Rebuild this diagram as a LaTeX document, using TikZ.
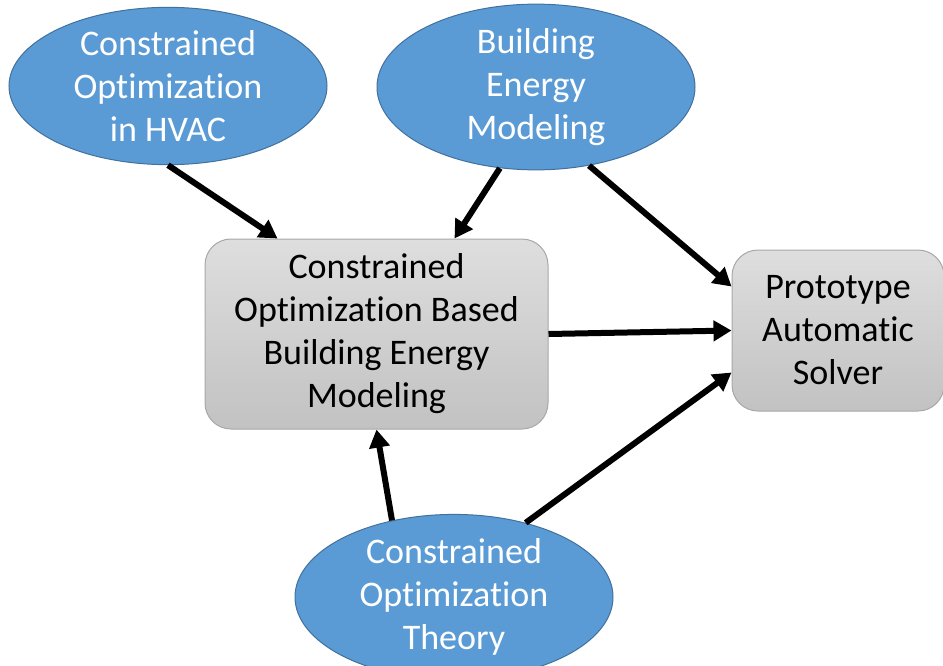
\documentclass[tikz,border=0pt]{standalone}
\usepackage{fontspec}
\setmainfont[Ligatures={NoCommon,NoRare,NoDiscretionary}]{Carlito}
\usetikzlibrary{shapes.geometric,arrows.meta}
\definecolor{ellfill}{HTML}{5B9BD5}
\definecolor{elldraw}{HTML}{41719C}
\definecolor{boxtop}{HTML}{DEDEDE}
\definecolor{boxbot}{HTML}{C2C2C2}
\definecolor{boxdraw}{HTML}{A8A8A8}
\begin{document}
\begin{tikzpicture}[x=1pt,y=-1pt,
  ell/.style={ellipse, fill=ellfill, draw=elldraw, line width=1pt, inner sep=0pt,
    minimum width=318pt, minimum height=154pt, text=white, align=center,
    font=\fontsize{36}{43}\selectfont},
  gbox/.style={rectangle, rounded corners=26pt, top color=boxtop, bottom color=boxbot,
    draw=boxdraw, line width=1pt, inner sep=0pt, align=center, text=black,
    font=\fontsize{36}{43}\selectfont},
  conn/.style={line width=6pt, -{Triangle[length=18pt,width=20pt]}}]
\useasboundingbox (0,0) rectangle (943,665);
\node[ell] (e1) at (168,86) {Constrained\\Optimization\\in HVAC};
\node[ell] (e2) at (536,87) {Building\\Energy\\Modeling};
\node[ell] (e3) at (454,597) {Constrained\\Optimization\\Theory};
\node[gbox, minimum width=343pt, minimum height=190pt] (b1) at (376.5,334)
  {Constrained\\Optimization Based\\Building Energy\\Modeling};
\node[gbox, minimum width=212pt, minimum height=161pt] (b2) at (838,330.5)
  {Prototype\\Automatic\\Solver};
\draw[conn] (e1.south) -- ([xshift=73pt]b1.north west);
\draw[conn] (e2.-114) -- ([xshift=250pt]b1.north west);
\draw[conn] (e2.-56) -- ([yshift=-37pt]b2.north west);
\draw[conn] (b1.east) -- (b2.west);
\draw[conn] (e3.46) -- ([yshift=39pt]b2.south west);
\draw[conn] (e3.129) -- (b1.south);
\end{tikzpicture}
\end{document}
